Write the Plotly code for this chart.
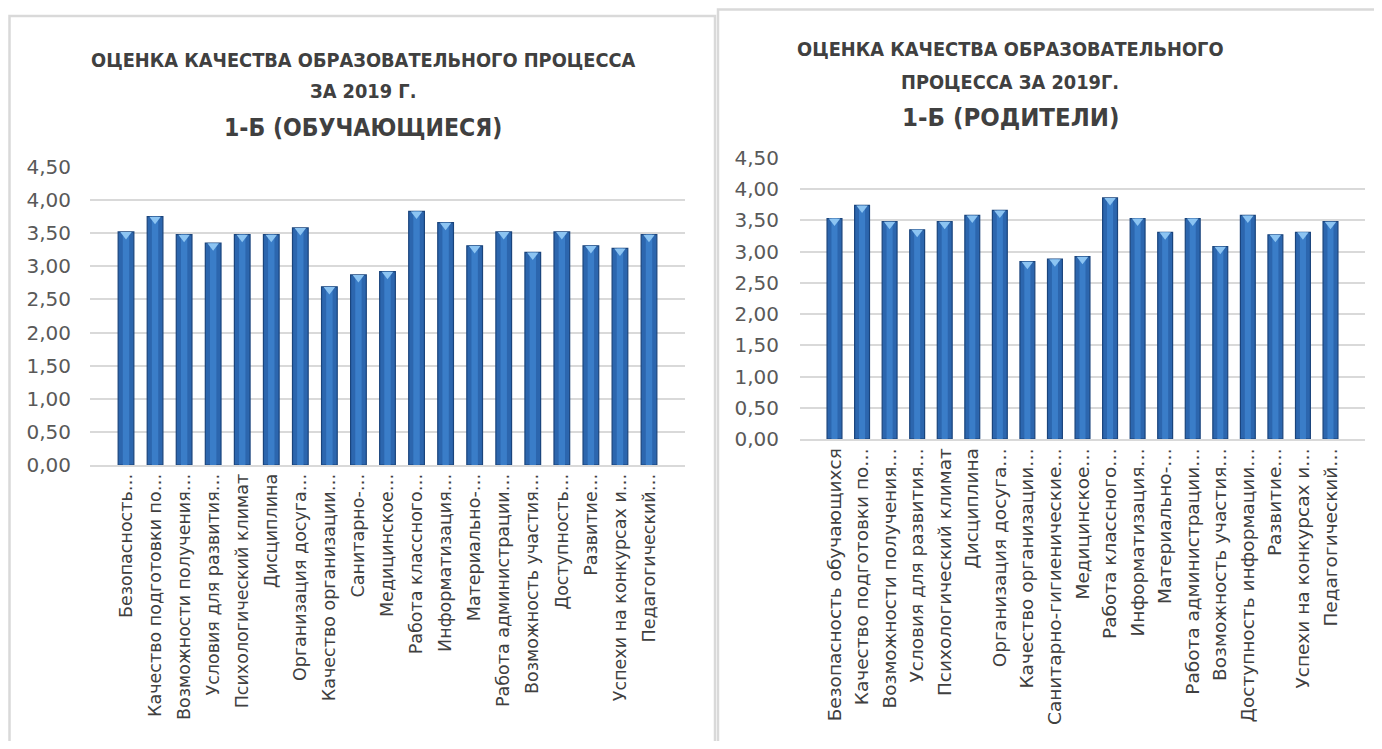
import plotly.graph_objects as go

# Page is 1382x749; browser body keeps an 8px margin, so the figure is 16px smaller
OFF = 8
W, H = 1382 - 2 * OFF, 749 - 2 * OFF

cats_students = [
    "Безопасность…", "Качество подготовки по…", "Возможности получения…",
    "Условия для развития…", "Психологический климат", "Дисциплина",
    "Организация досуга…", "Качество организации…", "Санитарно-…",
    "Медицинское…", "Работа классного…", "Информатизация…", "Материально-…",
    "Работа администрации…", "Возможность участия…", "Доступность…",
    "Развитие…", "Успехи на конкурсах и…", "Педагогический…",
]
vals_students = [3.52, 3.75, 3.48, 3.35, 3.48, 3.48, 3.58, 2.69, 2.87, 2.92,
                 3.83, 3.66, 3.31, 3.52, 3.21, 3.52, 3.31, 3.27, 3.48]

cats_parents = [
    "Безопасность обучающихся", "Качество подготовки по…", "Возможности получения…",
    "Условия для развития…", "Психологический климат", "Дисциплина",
    "Организация досуга…", "Качество организации…", "Санитарно-гигиенические…",
    "Медицинское…", "Работа классного…", "Информатизация…", "Материально-…",
    "Работа администрации…", "Возможность участия…", "Доступность информации…",
    "Развитие…", "Успехи на конкурсах и…", "Педагогический…",
]
vals_parents = [3.53, 3.74, 3.48, 3.35, 3.48, 3.58, 3.66, 2.84, 2.88, 2.92,
                3.86, 3.53, 3.31, 3.53, 3.08, 3.58, 3.27, 3.31, 3.48]

y_ticks = [0, 0.5, 1, 1.5, 2, 2.5, 3, 3.5, 4, 4.5]
y_tick_text = ["0,00", "0,50", "1,00", "1,50", "2,00", "2,50", "3,00", "3,50", "4,00", "4,50"]

titles_left = ["ОЦЕНКА КАЧЕСТВА ОБРАЗОВАТЕЛЬНОГО ПРОЦЕССА", "ЗА 2019 Г.", "1-Б (ОБУЧАЮЩИЕСЯ)"]
titles_right = ["ОЦЕНКА КАЧЕСТВА ОБРАЗОВАТЕЛЬНОГО", "ПРОЦЕССА ЗА 2019Г.", "1-Б (РОДИТЕЛИ)"]


def px(x):
    return (x - OFF) / W


def py(y):
    return 1 - (y - OFF) / H


BAR = "#2C66AE"
EDGE = "#1A447C"
HIGHLIGHT = "#3A7DC8"
TIP = "#8CC4F2"

fig = go.Figure()

for cats, vals, xa, ya in [(cats_students, vals_students, "x", "y"),
                           (cats_parents, vals_parents, "x2", "y2")]:
    fig.add_trace(go.Bar(x=cats, y=vals, xaxis=xa, yaxis=ya, width=0.54,
                         marker=dict(color=BAR, line=dict(color=EDGE, width=1.2)),
                         hoverinfo="x+y", showlegend=False))
    fig.add_trace(go.Bar(x=cats, y=vals, xaxis=xa, yaxis=ya, width=0.22,
                         marker=dict(color=HIGHLIGHT, line=dict(width=0)),
                         hoverinfo="skip", showlegend=False))
    fig.add_trace(go.Scatter(x=cats, y=[v - 0.04 for v in vals], xaxis=xa, yaxis=ya,
                             mode="markers",
                             marker=dict(symbol="triangle-down", size=10, color=TIP,
                                         line=dict(width=0)),
                             hoverinfo="skip", showlegend=False))

tick_font = dict(family="DejaVu Sans", size=20, color="#595959")

common_y = dict(range=[0, 4.5], tickvals=y_ticks, ticktext=y_tick_text,
                showgrid=True, gridcolor="#D9D9D9", gridwidth=1.5,
                zeroline=False, showline=False, tickfont=tick_font,
                ticks="", fixedrange=True, automargin=False)
common_x = dict(type="category", tickangle=-90,
                showline=True, linecolor="#D9D9D9", linewidth=1.5,
                showgrid=False, ticks="", fixedrange=True, automargin=False)

fig.update_layout(
    width=W, height=H, autosize=False,
    margin=dict(l=0, r=0, t=0, b=0, pad=0),
    paper_bgcolor="white", plot_bgcolor="white",
    barmode="overlay", bargap=0.46,
    xaxis=dict(domain=[px(90), px(685)], anchor="y",
               tickfont=dict(family="DejaVu Sans", size=17.5, color="#404040"), **common_x),
    yaxis=dict(domain=[py(465), py(167)], anchor="x", ticklabelstandoff=18, **common_y),
    xaxis2=dict(domain=[px(800), px(1365)], anchor="y2",
                tickfont=dict(family="DejaVu Sans", size=18.5, color="#404040"), **common_x),
    yaxis2=dict(domain=[py(439), py(158)], anchor="x2", ticklabelstandoff=20, **common_y),
    shapes=[
        dict(type="rect", xref="paper", yref="paper", x0=px(9.5), x1=px(715), y0=py(760), y1=py(16),
             line=dict(color="#D9D9D9", width=2.5), fillcolor="rgba(0,0,0,0)", layer="below"),
        dict(type="rect", xref="paper", yref="paper", x0=px(718), x1=px(1395), y0=py(760), y1=py(9.5),
             line=dict(color="#D9D9D9", width=2.5), fillcolor="rgba(0,0,0,0)", layer="below"),
    ],
)

title_font_family = "Liberation Sans Narrow, DejaVu Sans Condensed, Arial Narrow, sans-serif"
ann = []
for texts, cx, ys, small_size, big_size in [(titles_left, 363, [60, 92, 127], 19.8, 24.5),
                                            (titles_right, 1010, [50, 82, 117], 19.8, 25.5)]:
    for i, (t, yy) in enumerate(zip(texts, ys)):
        big = i == 2
        ann.append(dict(text="<b>" + t + "</b>", x=px(cx), y=py(yy), xref="paper", yref="paper",
                        xanchor="center", yanchor="middle", showarrow=False,
                        font=dict(family=title_font_family, size=big_size if big else small_size,
                                  color="#404040")))
fig.update_layout(annotations=ann)

fig.write_html("out.html", config={"displayModeBar": False})
